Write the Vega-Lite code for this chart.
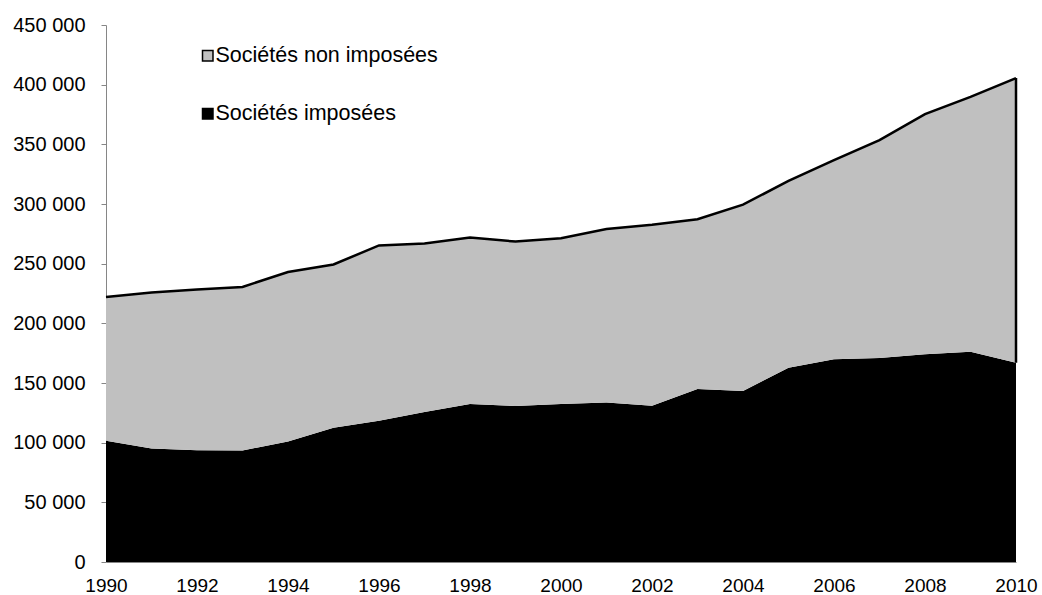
{
  "$schema": "https://vega.github.io/schema/vega-lite/v6.json",
  "width": 910,
  "height": 537,
  "autosize": "none",
  "padding": {"left": 106, "top": 25, "right": 26, "bottom": 33},
  "background": "white",
  "config": {
    "view": {"stroke": null},
    "font": "Liberation Sans",
    "locale": {"number": {"decimal": ",", "thousands": " ", "grouping": [3], "currency": ["", " €"]}}
  },
  "data": {
    "values": [
      {"annee": 1990, "serie": "Sociétés imposées", "valeur": 101600},
      {"annee": 1991, "serie": "Sociétés imposées", "valeur": 95200},
      {"annee": 1992, "serie": "Sociétés imposées", "valeur": 93600},
      {"annee": 1993, "serie": "Sociétés imposées", "valeur": 93500},
      {"annee": 1994, "serie": "Sociétés imposées", "valeur": 101000},
      {"annee": 1995, "serie": "Sociétés imposées", "valeur": 112500},
      {"annee": 1996, "serie": "Sociétés imposées", "valeur": 118400},
      {"annee": 1997, "serie": "Sociétés imposées", "valeur": 125600},
      {"annee": 1998, "serie": "Sociétés imposées", "valeur": 132300},
      {"annee": 1999, "serie": "Sociétés imposées", "valeur": 130700},
      {"annee": 2000, "serie": "Sociétés imposées", "valeur": 132500},
      {"annee": 2001, "serie": "Sociétés imposées", "valeur": 133700},
      {"annee": 2002, "serie": "Sociétés imposées", "valeur": 131000},
      {"annee": 2003, "serie": "Sociétés imposées", "valeur": 145000},
      {"annee": 2004, "serie": "Sociétés imposées", "valeur": 143200},
      {"annee": 2005, "serie": "Sociétés imposées", "valeur": 162800},
      {"annee": 2006, "serie": "Sociétés imposées", "valeur": 169800},
      {"annee": 2007, "serie": "Sociétés imposées", "valeur": 170900},
      {"annee": 2008, "serie": "Sociétés imposées", "valeur": 174000},
      {"annee": 2009, "serie": "Sociétés imposées", "valeur": 176200},
      {"annee": 2010, "serie": "Sociétés imposées", "valeur": 167000},
      {"annee": 1990, "serie": "Sociétés non imposées", "valeur": 120400},
      {"annee": 1991, "serie": "Sociétés non imposées", "valeur": 130600},
      {"annee": 1992, "serie": "Sociétés non imposées", "valeur": 134700},
      {"annee": 1993, "serie": "Sociétés non imposées", "valeur": 137000},
      {"annee": 1994, "serie": "Sociétés non imposées", "valeur": 142000},
      {"annee": 1995, "serie": "Sociétés non imposées", "valeur": 136800},
      {"annee": 1996, "serie": "Sociétés non imposées", "valeur": 146900},
      {"annee": 1997, "serie": "Sociétés non imposées", "valeur": 141400},
      {"annee": 1998, "serie": "Sociétés non imposées", "valeur": 139700},
      {"annee": 1999, "serie": "Sociétés non imposées", "valeur": 137800},
      {"annee": 2000, "serie": "Sociétés non imposées", "valeur": 138800},
      {"annee": 2001, "serie": "Sociétés non imposées", "valeur": 145300},
      {"annee": 2002, "serie": "Sociétés non imposées", "valeur": 151600},
      {"annee": 2003, "serie": "Sociétés non imposées", "valeur": 142200},
      {"annee": 2004, "serie": "Sociétés non imposées", "valeur": 156300},
      {"annee": 2005, "serie": "Sociétés non imposées", "valeur": 156500},
      {"annee": 2006, "serie": "Sociétés non imposées", "valeur": 166900},
      {"annee": 2007, "serie": "Sociétés non imposées", "valeur": 182700},
      {"annee": 2008, "serie": "Sociétés non imposées", "valeur": 201300},
      {"annee": 2009, "serie": "Sociétés non imposées", "valeur": 213500},
      {"annee": 2010, "serie": "Sociétés non imposées", "valeur": 238500}
    ]
  },
  "transform": [
    {"stack": "valeur", "groupby": ["annee"], "sort": [{"field": "serie", "order": "ascending"}], "as": ["v0", "v1"]}
  ],
  "layer": [
    {
      "mark": {"type": "area", "opacity": 1},
      "encoding": {
        "x": {
          "field": "annee", "type": "quantitative",
          "scale": {"domain": [1990, 2010], "nice": false, "zero": false},
          "axis": {
            "title": null, "values": [1990, 1992, 1994, 1996, 1998, 2000, 2002, 2004, 2006, 2008, 2010],
            "format": "d", "labelFontSize": 19, "labelColor": "black", "labelPadding": 14,
            "ticks": false, "domainColor": "#868686", "domainWidth": 1, "grid": false, "labelFlush": false
          }
        },
        "y": {
          "field": "v1", "type": "quantitative",
          "scale": {"domain": [0, 450000], "nice": false},
          "axis": {
            "title": null, "values": [0, 50000, 100000, 150000, 200000, 250000, 300000, 350000, 400000, 450000],
            "format": ",d", "labelFontSize": 20, "labelColor": "black", "labelPadding": 16,
            "tickSize": 5, "tickColor": "#868686", "domainColor": "#868686", "domainWidth": 1, "grid": false
          }
        },
        "y2": {"field": "v0"},
        "color": {
          "field": "serie", "type": "nominal",
          "scale": {"domain": ["Sociétés non imposées", "Sociétés imposées"], "range": ["#C0C0C0", "#000000"]},
          "legend": {
            "title": null, "orient": "none", "legendX": 91, "legendY": 20, "direction": "vertical",
            "symbolType": "square", "symbolSize": 110, "symbolStrokeColor": "black", "symbolStrokeWidth": 1.5,
            "symbolOpacity": 1,
            "labelFontSize": 21.5, "labelColor": "black", "labelOffset": -3, "rowPadding": 35, "labelLimit": 400
          }
        }
      }
    },
    {
      "transform": [{"filter": "datum.serie === 'Sociétés non imposées'"}],
      "mark": {"type": "line", "color": "black", "strokeWidth": 2.5},
      "encoding": {
        "x": {"field": "annee", "type": "quantitative"},
        "y": {"field": "v1", "type": "quantitative"}
      }
    },
    {
      "transform": [{"filter": "datum.serie === 'Sociétés non imposées' && datum.annee === 2010"}],
      "mark": {"type": "rule", "color": "black", "strokeWidth": 2.5},
      "encoding": {
        "x": {"field": "annee", "type": "quantitative"},
        "y": {"field": "v0", "type": "quantitative"},
        "y2": {"field": "v1"}
      }
    }
  ]
}
